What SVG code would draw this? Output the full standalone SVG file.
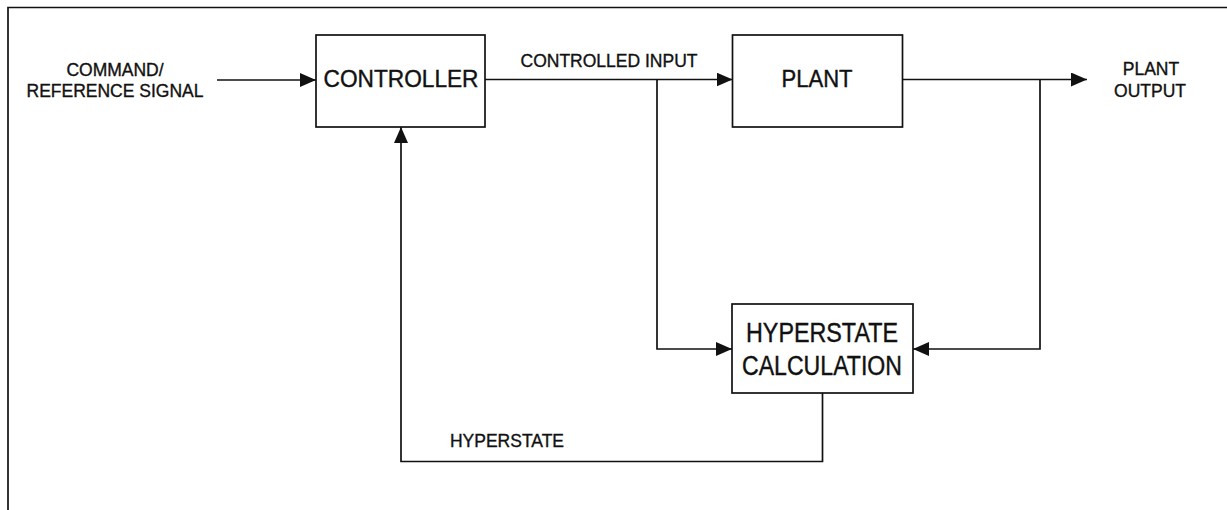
<svg xmlns="http://www.w3.org/2000/svg" width="1227" height="510" viewBox="0 0 1227 510">
  <style>
    .box { fill: #fff; stroke: #111; stroke-width: 1.7; }
    .wire { fill: none; stroke: #111; stroke-width: 1.7; }
    .lbl { font-family: "Liberation Sans", Arial, sans-serif; font-size: 17.5px; fill: #111; stroke: #111; stroke-width: 0.35; text-anchor: middle; }
    .big { font-family: "Liberation Sans", Arial, sans-serif; font-size: 24px; fill: #111; stroke: #111; stroke-width: 0.4; text-anchor: middle; }
    .hc { font-family: "Liberation Sans", Arial, sans-serif; font-size: 27px; fill: #111; stroke: #111; stroke-width: 0.4; text-anchor: middle; }
  </style>
  <defs>
    <marker id="arr" markerUnits="userSpaceOnUse" markerWidth="16" markerHeight="14" refX="16" refY="7" orient="auto">
      <path d="M0,0 L16,7 L0,14 z" fill="#111"/>
    </marker>
  </defs>
  <rect x="0" y="0" width="1227" height="510" fill="#fff"/>
  <g id="frame">
    <path class="wire" d="M8,510 V7.5 H1227"/>
  </g>
  <g id="connectors">
    <path class="wire" d="M217,80 H316" marker-end="url(#arr)"/>
    <path class="wire" d="M485,79.5 H732.5" marker-end="url(#arr)"/>
    <path class="wire" d="M657,79.5 V349 H732" marker-end="url(#arr)"/>
    <path class="wire" d="M902.5,79.5 H1087" marker-end="url(#arr)"/>
    <path class="wire" d="M1040,79.5 V349 H913" marker-end="url(#arr)"/>
    <path class="wire" d="M822.5,393 V461.5 H401 V127" marker-end="url(#arr)"/>
  </g>
  <g id="command-label">
    <text class="lbl" x="115" y="76">COMMAND/</text>
    <text class="lbl" x="115" y="97">REFERENCE SIGNAL</text>
  </g>
  <g id="controlled-input-label">
    <text class="lbl" x="609" y="66.5">CONTROLLED INPUT</text>
  </g>
  <g id="plant-output-label">
    <text class="lbl" x="1151" y="74.5">PLANT</text>
    <text class="lbl" x="1150" y="96.5">OUTPUT</text>
  </g>
  <g id="hyperstate-label">
    <text class="lbl" x="507" y="446.5">HYPERSTATE</text>
  </g>
  <g id="controller">
    <rect class="box" x="316" y="35" width="169" height="92"/>
    <text class="big" x="401" y="87" textLength="155" lengthAdjust="spacingAndGlyphs">CONTROLLER</text>
  </g>
  <g id="plant">
    <rect class="box" x="732.5" y="35" width="170" height="92"/>
    <text class="big" x="817" y="86.7" textLength="71" lengthAdjust="spacingAndGlyphs">PLANT</text>
  </g>
  <g id="hyperstate-calculation">
    <rect class="box" x="732" y="304" width="181" height="89"/>
    <text class="hc" x="822" y="341.5" textLength="152" lengthAdjust="spacingAndGlyphs">HYPERSTATE</text>
    <text class="hc" x="822" y="375" textLength="160" lengthAdjust="spacingAndGlyphs">CALCULATION</text>
  </g>
</svg>
